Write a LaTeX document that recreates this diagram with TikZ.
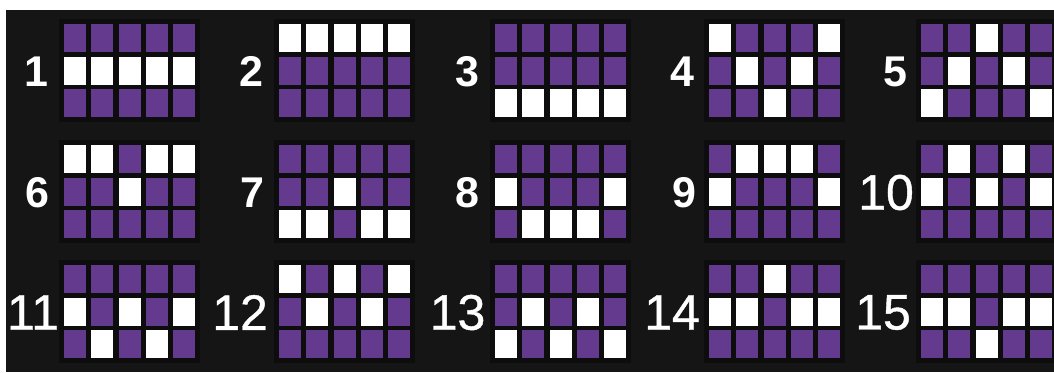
\documentclass[tikz,border=0pt]{standalone}
\usepackage{fontspec}
\setmainfont{Liberation Sans}
\newfontfamily\slotwide[FakeBold=0.8]{Liberation Sans}
\usetikzlibrary{positioning}
\definecolor{slotbg}{HTML}{151515}
\definecolor{slotback}{HTML}{0D0D0D}
\definecolor{linepurple}{HTML}{633A8E}
\newcommand\slotstrip[1]{#1}

\begin{document}
\begin{tikzpicture}[
    x=1pt, y=-1pt,
    % cell styles
    cell/.style={minimum width=22pt, minimum height=28pt, inner sep=0pt, outer sep=0pt},
    cell0/.style={cell, fill=linepurple},
    cell1/.style={cell, fill=white},
    num/.style={text=white, inner sep=0pt},
]
    \useasboundingbox (0,0) rectangle (1054,372);
    \fill[white] (0,0) rectangle (1054,372);
    \fill[slotbg] (6,10) rectangle (1054,372);

    % Paylines: number / grid x / grid y / label x / pattern (1 = white)
    \foreach \n/\gx/\gy/\lx/\pat in {
        1/64/24/36/{0,0,0,0,0,1,1,1,1,1,0,0,0,0,0},
        2/279/24/251.5/{1,1,1,1,1,0,0,0,0,0,0,0,0,0,0},
        3/495/24/467.5/{0,0,0,0,0,0,0,0,0,0,1,1,1,1,1},
        4/709/24/682.5/{1,0,0,0,1,0,1,0,1,0,0,0,1,0,0},
        5/921/24/895/{0,0,1,0,0,0,1,0,1,0,1,0,0,0,1},
        6/64/145/37/{1,1,0,1,1,0,0,1,0,0,0,0,0,0,0},
        7/279/145/252.5/{0,0,0,0,0,0,0,1,0,0,1,1,0,1,1},
        8/495/145/467.5/{0,0,0,0,0,1,0,0,0,1,0,1,1,1,0},
        9/709/145/684.5/{0,1,1,1,0,1,0,0,0,1,0,0,0,0,0},
        10/921/145/886/{0,1,0,1,0,1,0,1,0,1,0,0,0,0,0},
        11/64/265/33/{0,0,0,0,0,1,0,1,0,1,0,1,0,1,0},
        12/279/265/240/{1,0,1,0,1,0,1,0,1,0,0,0,0,0,0},
        13/495/265/457.5/{0,0,0,0,0,0,1,0,1,0,1,0,1,0,1},
        14/709/265/672/{0,0,1,0,0,1,1,0,1,1,0,0,0,0,0},
        15/921/265/883/{0,0,0,0,0,1,1,0,1,1,0,0,1,0,0}
    } {
        \fill[slotback] (\gx-5,\gy-5) rectangle (\gx+136,\gy+98);
        \edef\patlist{\expandafter\slotstrip\pat}
        \foreach \v [count=\k from 0] in \patlist {
            \pgfmathtruncatemacro\cv{\v}
            \pgfmathtruncatemacro\col{mod(\k,5)}
            \pgfmathtruncatemacro\row{div(\k,5)}
            \node[cell\cv] (c\n-\k) at (\gx+11+\col*27.3, \gy+14+\row*32.5) {};
        }
        \node[num] (n\n) at (\lx, \gy+47.5) {\ifnum\n<10 \fontsize{43}{43}\selectfont\bfseries\else\slotwide\fontsize{50}{50}\selectfont\fi\n};
    }

\end{tikzpicture}
\end{document}
